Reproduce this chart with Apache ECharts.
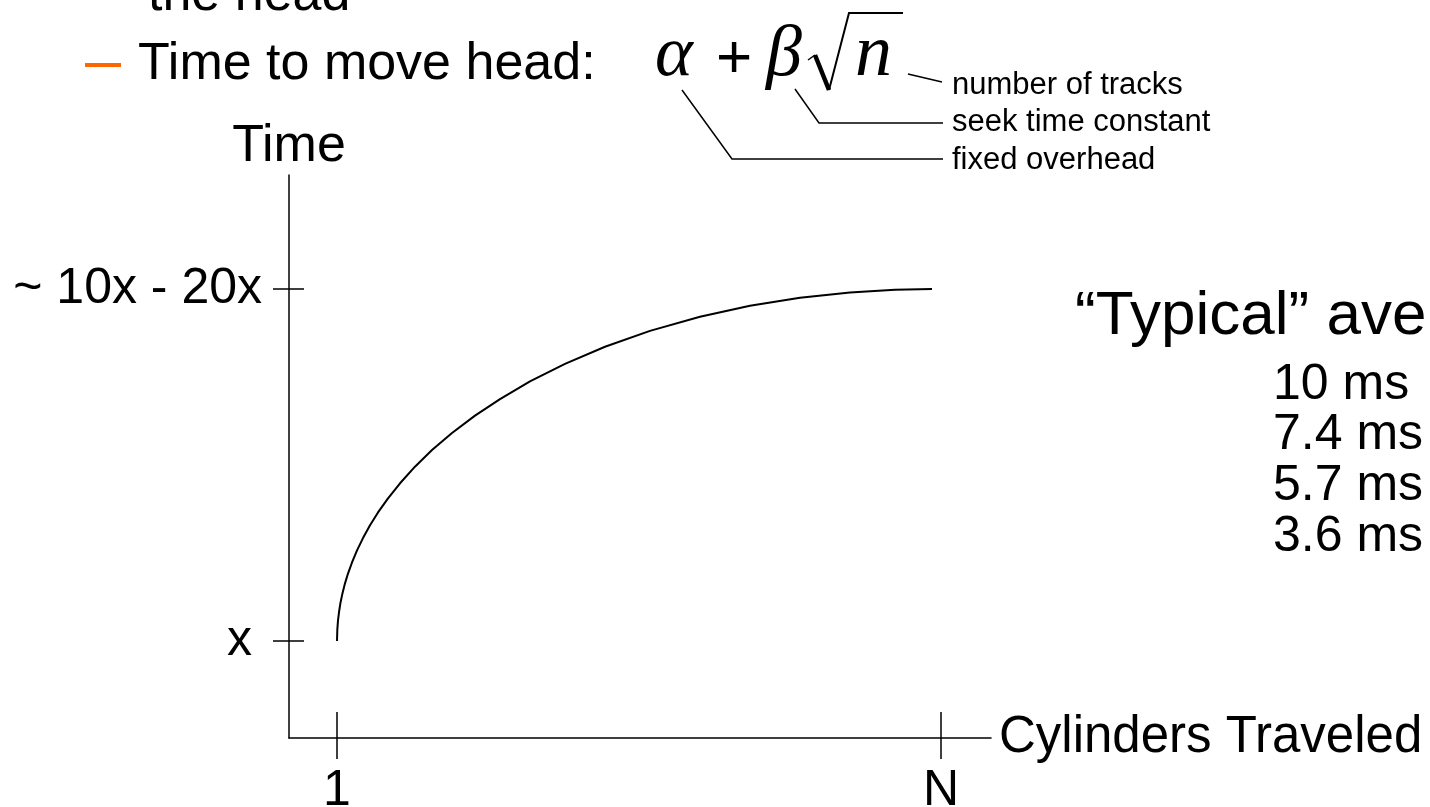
<!DOCTYPE html>
<html>
<head>
<meta charset="utf-8">
<title>Seek time vs cylinders traveled</title>
<script src="https://cdn.jsdelivr.net/npm/echarts@6/dist/echarts.min.js"></script>
<style>
  html, body { margin: 0; padding: 0; background: #fff; }
  #chart { width: 1430px; height: 807px; }
</style>
</head>
<body>
<div id="chart"></div>
<script>
// Cylinders traveled (1 .. N, with N drawn at 100) and seek time in units of x
const cylinders = [1, 1.05, 1.16, 1.33, 1.57, 1.9, 2.31, 2.8, 3.46, 4.28, 5.26, 6.41, 7.72, 9.36, 11.33,
  13.78, 16.57, 19.85, 23.62, 27.72, 32.63, 38.37, 44.93, 52.3, 60.5, 68.69, 76.89, 85.08, 92.46, 98.53];
const seekTime = [1, 1.45, 1.81, 2.15, 2.52, 2.9, 3.29, 3.68, 4.12, 4.6, 5.09, 5.6, 6.11, 6.67, 7.27,
  7.93, 8.59, 9.27, 9.96, 10.62, 11.32, 12.02, 12.7, 13.33, 13.89, 14.33, 14.65, 14.86, 14.97, 15];

// Axis tick positions and their labels
const xTickValues = [1, 100];
const xTickLabels = ['1', 'N'];
const yTickValues = [1, 15];
const yTickLabels = ['x', '~ 10x - 20x'];

// Typical average seek times listed beside the chart
const typicalTimes = ['10 ms', '7.4 ms', '5.7 ms', '3.6 ms'];

const SANS = '"Liberation Sans", Arial, sans-serif';
const SERIF = '"Liberation Serif", "Times New Roman", serif';

const chart = echarts.init(document.getElementById('chart'), null, { renderer: 'canvas' });

const axisLine = { show: true, onZero: false, lineStyle: { color: '#000', width: 1.5 } };
const tickLine = { color: '#000', width: 1.5 };

function txt(text, x, y, size, opts) {
  opts = opts || {};
  const align = opts.align || 'left';
  return {
    type: 'text',
    x: x, y: y,
    silent: true,
    style: {
      text: text,
      font: (opts.italic ? 'italic ' : '') + size + 'px ' + (opts.family || SANS),
      fill: opts.color || '#000',
      align: align, textAlign: align,
      verticalAlign: 'middle', textVerticalAlign: 'middle'
    }
  };
}
function line(points, width) {
  return {
    type: 'polyline', silent: true,
    shape: { points: points },
    style: { stroke: '#000', lineWidth: width || 1.5, fill: null, lineJoin: 'miter' }
  };
}

const graphics = [
  // slide bullet text above the chart
  txt('the head', 148, -4, 52),
  { type: 'rect', silent: true, shape: { x: 85, y: 63, width: 36, height: 4 }, style: { fill: '#FF6600' } },
  txt('Time to move head:', 138, 65, 52),
  // formula  α + β√n
  txt('α', 655, 56, 72, { italic: true, family: SERIF }),
  txt('+', 734, 60, 62, { align: 'center' }),
  txt('β', 766, 56, 72, { italic: true, family: SERIF }),
  txt('n', 855, 56, 74, { italic: true, family: SERIF }),
  line([[808, 60], [815, 55]], 1.5),
  line([[815, 55], [829, 90]], 4.5),
  line([[829, 90], [849, 13], [903, 13]], 2),
  // leaders from the formula terms to their descriptions
  line([[908, 74], [942, 82]], 1.5),
  line([[795, 89], [819, 123], [943, 123]], 1.5),
  line([[682, 90], [732, 159], [943, 159]], 1.5),
  txt('number of tracks', 952, 85, 31),
  txt('seek time constant', 952, 122, 31),
  txt('fixed overhead', 952, 160, 31),
  // typical average seek times
  txt('\u201CTypical\u201D average seek time', 1075, 317, 62)
];
typicalTimes.forEach(function (t, i) {
  graphics.push(txt(t, 1273, 385 + i * 50.7, 50));
});

const option = {
  backgroundColor: '#fff',
  animation: false,
  grid: { left: 289, right: 439, top: 175, bottom: 69, containLabel: false, outerBoundsMode: 'none' },
  xAxis: [
    {
      type: 'value', position: 'bottom',
      min: -6.87, max: 108.2,
      name: 'Cylinders Traveled', nameLocation: 'end', nameGap: 8,
      nameTextStyle: { color: '#000', fontSize: 51, fontFamily: SANS, align: 'left', verticalAlign: 'middle' },
      axisLine: axisLine,
      axisTick: { show: true, inside: false, length: 21, customValues: xTickValues, lineStyle: tickLine },
      axisLabel: {
        show: true, customValues: xTickValues, margin: 28,
        color: '#000', fontSize: 50, fontFamily: SANS,
        formatter: function (v) { return xTickLabels[xTickValues.indexOf(v)]; }
      },
      splitLine: { show: false }
    },
    {
      type: 'value', position: 'bottom',
      min: -6.87, max: 108.2,
      axisLine: { show: false, onZero: false },
      axisTick: { show: true, inside: true, length: 26, customValues: xTickValues, lineStyle: tickLine },
      axisLabel: { show: false },
      splitLine: { show: false }
    }
  ],
  yAxis: [
    {
      type: 'value', position: 'left',
      min: -2.86, max: 19.53,
      name: 'Time', nameLocation: 'end', nameGap: 2,
      nameTextStyle: { color: '#000', fontSize: 52, fontFamily: SANS, align: 'center', verticalAlign: 'bottom' },
      axisLine: axisLine,
      axisTick: { show: true, inside: false, length: 16, customValues: yTickValues, lineStyle: tickLine },
      axisLabel: {
        show: true, customValues: yTickValues, margin: 27,
        color: '#000', fontSize: 50, fontFamily: SANS,
        formatter: function (v) {
          const s = yTickLabels[yTickValues.indexOf(v)];
          return v === yTickValues[0] ? '{base|' + s + '}' : s;
        },
        rich: { base: { fontSize: 50, fontFamily: SANS, color: '#000', padding: [0, 10, 0, 0] } }
      },
      splitLine: { show: false }
    },
    {
      type: 'value', position: 'left',
      min: -2.86, max: 19.53,
      axisLine: { show: false, onZero: false },
      axisTick: { show: true, inside: true, length: 15, customValues: yTickValues, lineStyle: tickLine },
      axisLabel: { show: false },
      splitLine: { show: false }
    }
  ],
  series: [
    {
      type: 'line',
      xAxisIndex: 0, yAxisIndex: 0,
      data: cylinders.map(function (c, i) { return [c, seekTime[i]]; }),
      showSymbol: false,
      smooth: false,
      lineStyle: { color: '#000', width: 2 },
      silent: true
    }
  ],
  graphic: graphics
};

chart.setOption(option);
</script>
</body>
</html>
